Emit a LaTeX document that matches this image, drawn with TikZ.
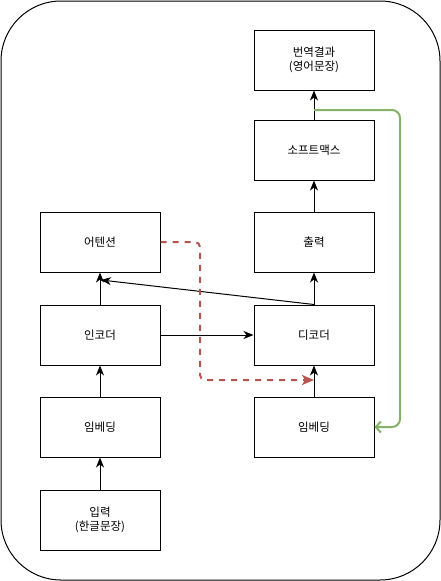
\documentclass[tikz,border=0pt]{standalone}
\usepackage{fontspec}
\setmainfont{Noto Sans CJK KR}
\usetikzlibrary{arrows.meta}
\definecolor{redc}{RGB}{184,84,80}
\definecolor{greenc}{RGB}{130,179,102}
\begin{document}
\begin{tikzpicture}[x=1pt,y=-1pt,
  box/.style={draw,line width=1pt,minimum width=120pt,minimum height=60pt,inner sep=0pt,font=\fontsize{11.5}{14}\selectfont,align=center},
  arr/.style={line width=1pt,-{Stealth[length=10pt,width=8pt,inset=3pt]}},
  redarr/.style={draw=redc,line width=2pt,dash pattern=on 6pt off 6pt,rounded corners=5pt,-{Stealth[length=12pt,width=10pt,inset=3pt]}},
  greenarr/.style={draw=greenc,line width=2pt,rounded corners=8pt,-{Straight Barb[length=5pt,width=11pt]}}]
\useasboundingbox (0,0) rectangle (441,581);
\draw[line width=1pt,rounded corners=60pt] (1,1) rectangle (440,580);
% right column
\node[box] (res) at (314,60) {번역결과\\(영어문장)};
\node[box] (soft) at (314,150) {소프트맥스};
\node[box] (out) at (314,242) {출력};
\node[box] (dec) at (314,335) {디코더};
\node[box] (emb2) at (314,427) {임베딩};
% left column
\node[box] (att) at (100,242) {어텐션};
\node[box] (enc) at (100,335) {인코더};
\node[box] (emb1) at (100,427) {임베딩};
\node[box] (inp) at (100,520) {입력\\(한글문장)};
\coordinate (atttip) at (101,280);
% arrows
\draw[arr] (inp.north) -- (emb1.south);
\draw[arr] (emb1.north) -- (enc.south);
\draw[arr] (enc.north) -- (att.south);
\draw[arr] (enc.east) -- (dec.west);
\draw[arr] (dec.north) -- (atttip);
\draw[arr] (emb2.north) -- (dec.south);
\draw[arr] (dec.north) -- (out.south);
\draw[arr] (out.north) -- (soft.south);
\draw[arr] (soft.north) -- (res.south);
\coordinate (gstart) at (314,110);
\coordinate (rend) at (314,380);
\draw[greenarr] (gstart) -- (400,110) -- (400,427) -- (emb2.east);
\draw[redarr] (att.east) -- (200,242) -- (200,380) -- (rend);
\end{tikzpicture}
\end{document}
